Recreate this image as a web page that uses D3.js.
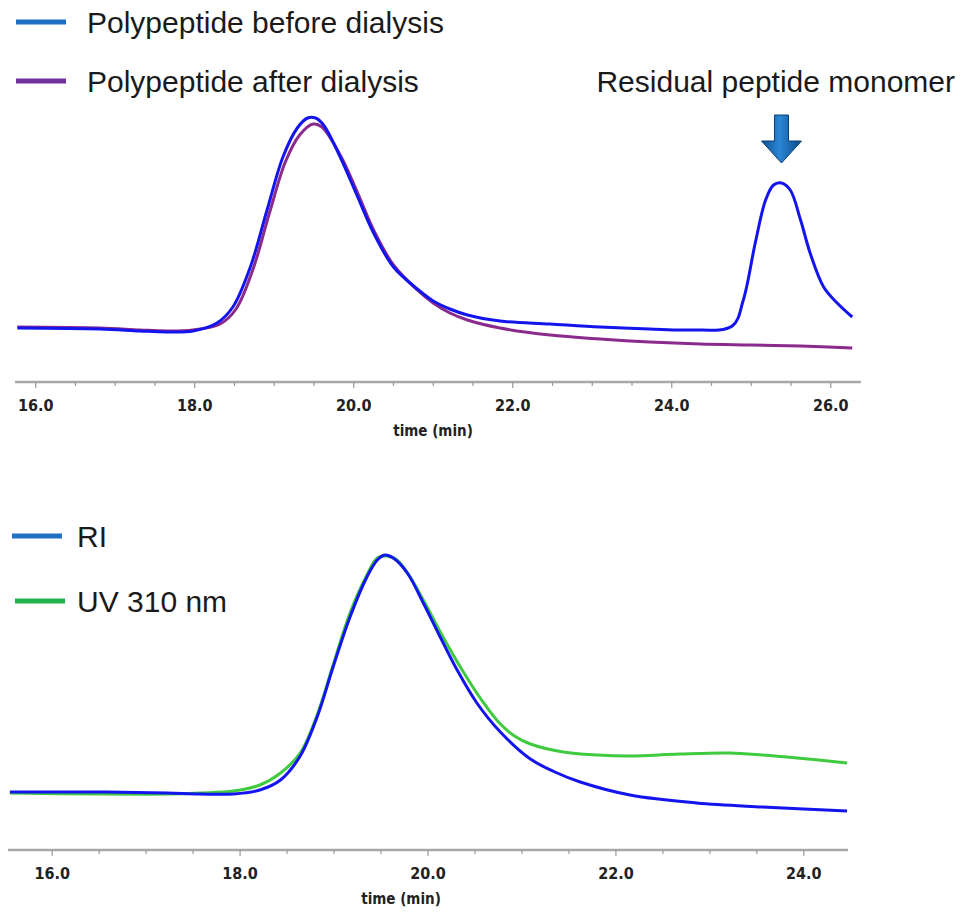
<!DOCTYPE html>
<html>
<head>
<meta charset="utf-8">
<script src="https://cdn.jsdelivr.net/npm/d3@7"></script>
<style>
  body { margin: 0; background: #fff; }
  .tick-lbl { font-family: "DejaVu Sans", sans-serif; font-stretch: condensed; font-weight: bold; font-size: 16px; fill: #222; }
  .legend { font-family: "Liberation Sans", Arial, sans-serif; font-size: 30px; fill: #1a1a1a; }
</style>
</head>
<body>
<div id="chart"></div>
<script>
// top panel: before / after dialysis (time in min, detector response in arbitrary units)
var topBeforeT = [15.77, 16.81, 17.31, 17.65, 17.98, 18.28, 18.48, 18.70, 18.91, 19.11, 19.29, 19.42, 19.52, 19.62, 19.83, 20.05, 20.25, 20.50, 20.80, 21.00, 21.21, 21.43, 21.84, 22.47, 23.10, 23.72, 24.23, 24.76, 24.90, 25.05, 25.18, 25.28, 25.38, 25.49, 25.62, 25.74, 25.91, 26.08, 26.27];
var topBeforeV = [54, 53, 51, 50, 51, 59, 75, 115, 172, 225, 254, 264, 264, 257, 225, 185, 149, 115, 93, 81, 73, 67, 61, 58, 55, 53, 52, 56, 82, 139, 182, 197, 199, 192, 162, 129, 95, 79, 65];

var topAfterT = [15.77, 16.81, 17.31, 17.65, 17.98, 18.32, 18.52, 18.73, 18.94, 19.14, 19.32, 19.49, 19.60, 19.83, 20.05, 20.25, 20.50, 20.80, 21.00, 21.21, 21.43, 21.84, 22.47, 23.10, 23.72, 24.36, 25.00, 25.62, 26.27];
var topAfterV = [55, 54, 52, 51, 52, 58, 73, 112, 169, 220, 247, 258, 255, 227, 189, 152, 117, 92, 79, 69, 62, 54, 47, 43, 40, 38, 37, 36, 34];

// bottom panel: RI vs UV 310 nm
var botRiT = [15.55, 16.51, 17.22, 17.57, 17.93, 18.21, 18.43, 18.64, 18.82, 18.99, 19.17, 19.35, 19.46, 19.54, 19.63, 19.78, 19.95, 20.13, 20.31, 20.52, 20.77, 21.09, 21.35, 21.62, 22.15, 22.86, 23.56, 24.46];
var botRiV = [58, 58, 57, 56, 56, 60, 70, 94, 133, 183, 233, 273, 290, 295, 292, 277, 247, 213, 180, 147, 118, 91, 78, 68, 55, 47, 43, 39];

var botUvT = [15.55, 16.51, 17.22, 17.57, 17.93, 18.21, 18.43, 18.64, 18.82, 18.99, 19.17, 19.35, 19.46, 19.56, 19.67, 19.81, 19.99, 20.16, 20.37, 20.57, 20.75, 20.92, 21.09, 21.44, 21.80, 22.15, 22.68, 23.21, 23.56, 23.93, 24.46];
var botUvV = [57, 56, 56, 57, 59, 65, 77, 97, 135, 185, 237, 275, 292, 294, 290, 273, 243, 213, 179, 150, 128, 114, 106, 98, 95, 94, 96, 97, 95, 92, 87];

var topTicks = [16, 18, 20, 22, 24, 26];
var botTicks = [16, 18, 20, 22, 24];
var xTitle = "time (min)";

var topLegend = ["Polypeptide before dialysis", "Polypeptide after dialysis"];
var botLegend = ["RI", "UV 310 nm"];
var peakNote = "Residual peptide monomer";

var W = 971, H = 915;
var svg = d3.select("#chart").append("svg")
  .attr("width", W)
  .attr("height", H);

function zip(ts, vs) {
  return ts.map(function (t, i) { return [t, vs[i]]; });
}

// gradient for the arrow
var defs = svg.append("defs");
var grad = defs.append("linearGradient").attr("id", "arrowGrad")
  .attr("x1", "0%").attr("x2", "100%").attr("y1", "0%").attr("y2", "0%");
grad.append("stop").attr("offset", "0%").attr("stop-color", "#0d4f91");
grad.append("stop").attr("offset", "45%").attr("stop-color", "#2a86d6");
grad.append("stop").attr("offset", "100%").attr("stop-color", "#0c4a88");

function drawPanel(cfg) {
  var x = d3.scaleLinear().domain(cfg.xDomain).range(cfg.xRange);
  var y = d3.scaleLinear().domain([0, 300]).range([cfg.axisY, cfg.axisY - 300]);
  var g = svg.append("g");

  // axis
  g.append("line")
    .attr("x1", cfg.xRange[0]).attr("x2", cfg.xRange[1])
    .attr("y1", cfg.axisY).attr("y2", cfg.axisY)
    .style("stroke", "#a8a8a8").style("stroke-width", 2.5);

  var minor = d3.range(Math.ceil(cfg.xDomain[0] * 2) / 2, cfg.xDomain[1], 0.5);
  g.selectAll(".minor").data(minor).enter().append("line")
    .attr("x1", function (d) { return x(d); })
    .attr("x2", function (d) { return x(d); })
    .attr("y1", cfg.axisY)
    .attr("y2", function (d) { return cfg.axisY + (d % 2 === 0 ? 6 : 4); })
    .style("stroke", "#999").style("stroke-width", 1.2);

  g.selectAll(".tick-lbl").data(cfg.ticks).enter().append("text")
    .attr("class", "tick-lbl")
    .attr("x", function (d) { return x(d); })
    .attr("y", cfg.axisY + 29)
    .attr("text-anchor", "middle")
    .text(function (d) { return d.toFixed(1); });

  g.append("text")
    .attr("class", "tick-lbl")
    .attr("x", cfg.titleX)
    .attr("y", cfg.axisY + 54)
    .attr("text-anchor", "middle")
    .style("font-size", "15px")
    .text(xTitle);

  var line = d3.line()
    .x(function (d) { return x(d[0]); })
    .y(function (d) { return y(d[1]); })
    .curve(d3.curveCatmullRom.alpha(0.5));

  cfg.series.forEach(function (s) {
    g.append("path")
      .datum(s.data)
      .attr("d", line)
      .style("fill", "none")
      .style("stroke", s.color)
      .style("stroke-width", 3)
      .style("stroke-linejoin", "round");
  });

  // legend
  cfg.legend.forEach(function (l, i) {
    g.append("line")
      .attr("x1", l.x1).attr("x2", l.x1 + 50)
      .attr("y1", l.y).attr("y2", l.y)
      .style("stroke", l.color).style("stroke-width", 5);
    g.append("text")
      .attr("class", "legend")
      .attr("x", 77 + (cfg.legendShift || 0))
      .attr("y", l.y + 11)
      .text(l.label);
  });

  return { x: x, y: y, g: g };
}

var topPanel = drawPanel({
  xDomain: [15.74, 26.38],
  xRange: [15, 861],
  axisY: 382,
  ticks: topTicks,
  titleX: 433,
  legendShift: 10,
  series: [
    { data: zip(topAfterT, topAfterV), color: "#8a2a8c" },
    { data: zip(topBeforeT, topBeforeV), color: "#1414ee" }
  ],
  legend: [
    { label: topLegend[0], color: "#1f6fc4", x1: 16, y: 22 },
    { label: topLegend[1], color: "#7030a0", x1: 16, y: 81 }
  ]
});

drawPanel({
  xDomain: [15.53, 24.47],
  xRange: [8, 848],
  axisY: 850,
  ticks: botTicks,
  titleX: 401,
  series: [
    { data: zip(botUvT, botUvV), color: "#3fca3f" },
    { data: zip(botRiT, botRiV), color: "#1414ee" }
  ],
  legend: [
    { label: botLegend[0], color: "#1f6fc4", x1: 12, y: 536 },
    { label: botLegend[1], color: "#22b14c", x1: 15, y: 601 }
  ]
});

// annotation for the monomer peak
var peakT = topBeforeT[topBeforeV.indexOf(d3.max(topBeforeV.slice(27)))];
var ax = topPanel.x(peakT), tipY = topPanel.y(d3.max(topBeforeV.slice(27))) - 20;
svg.append("text")
  .attr("class", "legend")
  .attr("x", 955)
  .attr("y", 92)
  .attr("text-anchor", "end")
  .text(peakNote);

var arrow = d3.path();
arrow.moveTo(ax - 7, tipY - 48);
arrow.lineTo(ax + 7, tipY - 48);
arrow.lineTo(ax + 7, tipY - 22);
arrow.lineTo(ax + 20, tipY - 22);
arrow.lineTo(ax, tipY);
arrow.lineTo(ax - 20, tipY - 22);
arrow.lineTo(ax - 7, tipY - 22);
arrow.closePath();
svg.append("path")
  .attr("d", arrow.toString())
  .style("fill", "url(#arrowGrad)")
  .style("stroke", "#0b3f75")
  .style("stroke-width", 1);
</script>
</body>
</html>
